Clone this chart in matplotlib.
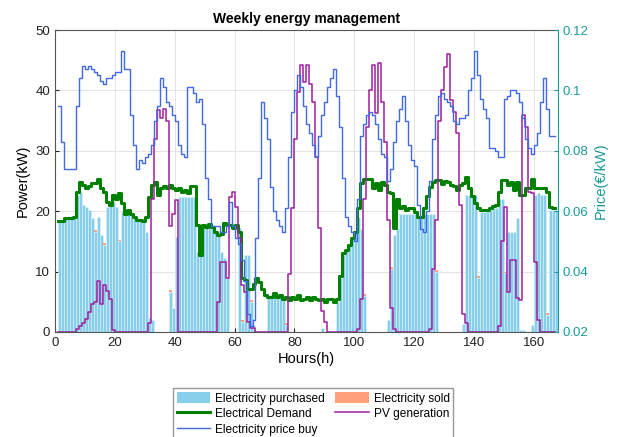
import matplotlib
matplotlib.use("Agg")
import matplotlib.pyplot as plt
import numpy as np
from matplotlib.patches import Patch
from matplotlib.lines import Line2D

# hourly series, t = 1 .. 167
DEMAND = [
    18.3, 18.3, 18.9, 18.9, 18.8, 19.1, 23.2, 24.9, 24.3, 23.8, 24.1, 24.6, 24.6, 25.4, 23.8, 23.2, 21.6, 21.0, 22.7, 22.1, 23.0, 21.3, 19.6,
    20.2, 19.6, 19.1, 18.5, 18.5, 18.3, 19.1, 22.4, 24.3, 24.9, 22.7, 23.8, 24.1, 23.8, 24.3, 23.8, 23.5, 23.8, 23.2, 23.5, 23.0, 24.1, 24.1, 17.7,
    12.7, 17.7, 17.4, 17.9, 17.4, 16.6, 16.1, 16.3, 18.0, 17.7, 17.7, 17.2, 17.7, 16.6, 8.9, 8.6, 7.2, 7.2, 8.0, 8.9, 8.3, 7.2, 6.1, 5.8,
    5.8, 6.4, 5.8, 6.1, 5.5, 5.8, 5.3, 5.8, 5.5, 6.1, 5.3, 5.5, 5.8, 5.3, 5.8, 5.5, 5.3, 5.5, 5.0, 5.5, 5.5, 5.0, 5.5, 9.2,
    13.0, 13.6, 14.4, 15.5, 16.5, 20.5, 24.6, 25.4, 25.4, 25.4, 23.8, 24.6, 23.5, 24.8, 24.3, 23.2, 23.0, 17.2, 22.1, 20.5, 20.8, 20.2, 20.5, 20.5,
    19.9, 19.1, 19.1, 20.5, 22.5, 24.0, 24.9, 25.2, 25.2, 24.5, 25.0, 24.8, 24.4, 24.1, 23.5, 24.3, 24.6, 25.7, 23.8, 22.5, 21.3, 20.5, 20.2, 20.2,
    20.2, 20.5, 20.8, 21.0, 23.2, 25.2, 25.2, 24.3, 24.9, 23.5, 24.9, 22.7, 22.7, 23.8, 23.8, 25.4, 23.8, 23.8, 23.8, 23.8, 23.2, 20.7, 20.5, 20.5,
]

PV = [
    0, 0, 0, 0, 0, 0, 0.5, 1.0, 1.5, 2.2, 3.3, 4.6, 5.0, 8.4, 4.6, 7.7, 6.8, 5.4, 0.3, 0, 0, 0, 0,
    0, 0, 0, 0, 0, 0, 0, 1.5, 22.0, 32.0, 36.8, 35.4, 37.0, 35.0, 17.5, 19.5, 21.9, 0, 0, 0, 0, 0, 0, 0,
    0, 0, 0, 0, 0, 0, 5.0, 11.6, 11.6, 9.0, 22.4, 23.2, 20.7, 15.5, 7.8, 6.7, 1.7, 0.6, 0.6, 0, 0, 0, 0, 0,
    0, 0, 0, 0, 0, 0, 9.6, 20.5, 32.0, 39.8, 44.2, 41.4, 44.2, 41.0, 38.1, 29.0, 17.2, 3.4, 1.7, 0, 0, 0, 0, 0,
    0, 0, 0, 0, 0, 0.5, 5.5, 22.0, 34.0, 40.0, 44.2, 36.2, 44.5, 38.0, 31.5, 18.5, 4.0, 0.5, 0, 0, 0, 0, 0, 0,
    0, 0, 0, 0, 0, 0.5, 10.5, 18.6, 35.0, 40.0, 43.9, 46.0, 38.4, 36.5, 33.0, 21.0, 3.0, 1.5, 0, 0, 0, 0, 0, 0,
    0, 0, 0, 0, 1.0, 15.0, 20.7, 6.7, 11.9, 11.9, 5.6, 5.3, 36.0, 34.0, 23.2, 23.0, 11.6, 2.0, 0, 0, 0, 0, 0, 0,
]

PURCHASED = [
    18.3, 18.3, 18.9, 18.9, 18.8, 19.1, 22.7, 23.2, 21.0, 20.7, 20.2, 18.8, 16.6, 19.1, 16.1, 14.4, 20.7, 21.6, 21.6, 20.7, 15.0, 19.9, 19.6,
    20.2, 19.6, 19.1, 18.5, 18.5, 18.3, 16.6, 2.3, 2.0, 0, 0, 0, 0, 0, 6.7, 3.9, 15.8, 22.4, 22.4, 22.4, 22.4, 22.4, 22.4, 13.3,
    12.7, 17.7, 17.4, 17.7, 17.4, 16.6, 16.3, 13.3, 12.2, 8.9, 0, 0, 0, 17.2, 1.7, 12.7, 12.7, 5.0, 1.2, 0, 0, 0, 0, 5.8,
    6.1, 6.4, 5.8, 6.1, 5.5, 1.2, 0, 0, 0, 0, 0, 0, 0, 0, 0, 0, 0, 0.6, 0, 0, 0, 0, 5.0, 8.9,
    12.7, 13.6, 14.4, 15.5, 16.5, 19.0, 17.0, 6.0, 0, 0, 0, 0, 0, 0, 0, 2.0, 10.5, 16.0, 17.2, 19.6, 19.6, 19.6, 19.6, 19.6,
    19.6, 19.1, 19.1, 19.6, 19.6, 19.6, 19.6, 10.0, 0, 0, 0, 0, 0, 0, 0, 0, 1.4, 22.7, 22.7, 22.7, 22.7, 8.9, 19.9, 19.9,
    20.0, 20.2, 20.5, 20.5, 22.0, 22.0, 9.7, 16.6, 16.6, 16.6, 18.8, 0.3, 0.3, 0, 0, 1.2, 22.7, 23.0, 22.7, 22.7, 2.8, 20.2, 20.2, 20.2,
]

# small amounts sold back to the grid (hour -> kW)
SOLD_HOURS = [13, 16, 21, 38, 62, 65, 77, 103, 112, 127, 141, 150, 164]
SOLD_KW = [0.3, 0.3, 0.3, 0.3, 0.3, 0.3, 0.3, 0.3, 0.3, 0.3, 0.3, 0.3, 0.3]

PRICE = [
    .095, .083, .074, .074, .074, .074, .095, .104, .108, .107, .108, .107, .106, .105, .103, .102, .104, .104, .105, .106, .106, .113, .107,
    .107, .092, .082, .074, .077, .076, .078, .079, .082, .090, .095, .104, .101, .096, .095, .092, .090, .082, .079, .078, .101, .101, .099, .096,
    .097, .089, .071, .064, .055, .055, .055, .053, .053, .055, .063, .055, .051, .049, .044, .037, .026, .022, .024, .051, .071, .096, .091, .084,
    .068, .060, .057, .055, .053, .061, .078, .093, .100, .105, .101, .095, .089, .086, .082, .078, .085, .092, .096, .101, .104, .107, .098, .088,
    .071, .058, .055, .053, .050, .064, .085, .089, .092, .093, .092, .089, .084, .079, .078, .070, .074, .083, .090, .094, .098, .090, .082, .077,
    .075, .062, .054, .053, .060, .070, .084, .092, .098, .099, .097, .096, .095, .090, .089, .091, .091, .092, .100, .104, .113, .105, .097, .094,
    .091, .081, .081, .080, .078, .078, .097, .098, .100, .100, .099, .096, .091, .084, .081, .079, .082, .086, .096, .104, .094, .085, .085, .085,
]

C_BUY = "#87CEEB"
C_SOLD = "#FFA07A"
C_DEMAND = "#008000"
C_PV = "#A01EA0"
C_PRICE = "#4169E1"
C_TEAL = "#1A9A9A"

plt.rcParams.update({
    "font.family": ["Liberation Sans", "DejaVu Sans"],
    "font.size": 9,
    "xtick.direction": "in",
    "ytick.direction": "in",
})

hours = np.arange(1, len(DEMAND) + 1)
purchased = np.array(PURCHASED)
sold = np.zeros(len(hours))
for h, v in zip(SOLD_HOURS, SOLD_KW):
    sold[h - 1] = v

fig = plt.figure(figsize=(6.3, 4.37), dpi=100)
ax = fig.add_axes([0.0873, 0.2403, 0.798, 0.691])

ax.bar(hours, purchased, width=1.0, align="edge", color=C_BUY,
       edgecolor="#dff2f9", linewidth=0.4, zorder=2)
ax.bar(hours, sold, width=1.0, bottom=purchased, align="edge", color=C_SOLD,
       linewidth=0, zorder=2)
ax.plot(hours, DEMAND, drawstyle="steps-post", color=C_DEMAND, lw=2.2, zorder=3)
ax.plot(hours, PV, drawstyle="steps-post", color=C_PV, lw=1.1, zorder=4)

ax.set_xlim(0, 168)
ax.set_ylim(0, 50)
ax.set_xticks(np.arange(0, 161, 20))
ax.set_yticks(np.arange(0, 51, 10))
ax.grid(True, color="#e3e3e3", linewidth=0.7, zorder=0)
ax.set_axisbelow(True)
ax.tick_params(labelsize=9.5, length=3, colors="#222222")
for side in ("left", "top", "bottom"):
    ax.spines[side].set_color("#555555")
ax.spines["right"].set_visible(False)
ax.set_xlabel("Hours(h)", fontsize=10.5, labelpad=2)
ax.set_ylabel("Power(kW)", fontsize=10.5, labelpad=4)
ax.set_title("Weekly energy management", fontsize=10, fontweight="bold", pad=5)

ax2 = ax.twinx()
ax2.plot(hours, PRICE, drawstyle="steps-post", color=C_PRICE, lw=1.0, zorder=5)
ax2.set_ylim(0.02, 0.12)
ax2.set_yticks([0.02, 0.04, 0.06, 0.08, 0.1, 0.12])
ax2.set_yticklabels(["0.02", "0.04", "0.06", "0.08", "0.1", "0.12"])
ax2.tick_params(labelsize=9.5, length=3, colors=C_TEAL)
ax2.spines["right"].set_color(C_TEAL)
for side in ("left", "top", "bottom"):
    ax2.spines[side].set_visible(False)
ax2.set_ylabel("Price(€/kW)", fontsize=10.5, color=C_TEAL, labelpad=4)

handles = [
    Patch(facecolor=C_BUY, edgecolor="none"),
    Line2D([], [], color=C_DEMAND, lw=2.2),
    Line2D([], [], color=C_PRICE, lw=1.0),
    Patch(facecolor=C_SOLD, edgecolor="none"),
    Line2D([], [], color=C_PV, lw=1.1),
]
labels = ["Electricity purchased", "Electrical Demand", "Electricity price buy",
          "Electricity sold", "PV generation"]
fig.legend(handles, labels, loc="upper center", bbox_to_anchor=(0.497, 0.125),
           ncol=2, fontsize=8.6, frameon=True, fancybox=False, edgecolor="#999999",
           handlelength=2.8, handleheight=1.1, columnspacing=0.9, labelspacing=0.22,
           borderpad=0.3, handletextpad=0.4, framealpha=1)

fig.savefig("out.png", dpi=100)
